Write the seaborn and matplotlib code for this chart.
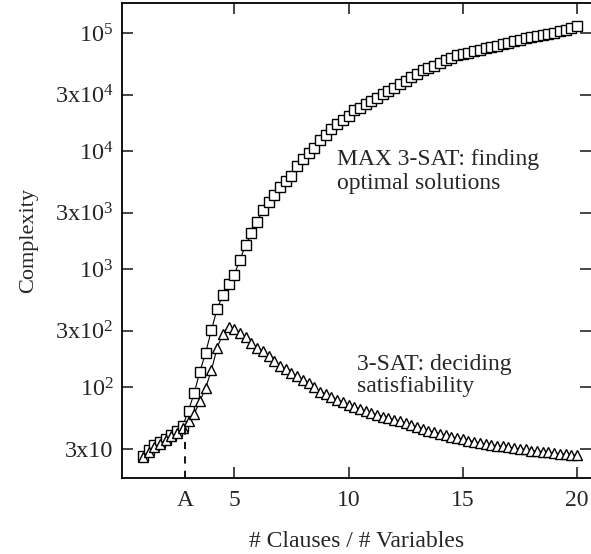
import numpy as np
import matplotlib
matplotlib.use("Agg")
import matplotlib.pyplot as plt
import seaborn as sns
from matplotlib.ticker import FixedLocator, NullLocator

# ---------------- data ----------------
ratio = [1.0, 1.25, 1.5, 1.75, 2.0, 2.25, 2.5, 2.75, 3.0, 3.25, 3.5, 3.75,
         4.0, 4.25, 4.5, 4.75, 5.0, 5.25, 5.5, 5.75, 6.0, 6.25, 6.5, 6.75,
         7.0, 7.25, 7.5, 7.75, 8.0, 8.25, 8.5, 8.75, 9.0, 9.25, 9.5, 9.75,
         10.0, 10.25, 10.5, 10.75, 11.0, 11.25, 11.5, 11.75, 12.0, 12.25,
         12.5, 12.75, 13.0, 13.25, 13.5, 13.75, 14.0, 14.25, 14.5, 14.75,
         15.0, 15.25, 15.5, 15.75, 16.0, 16.25, 16.5, 16.75, 17.0, 17.25,
         17.5, 17.75, 18.0, 18.25, 18.5, 18.75, 19.0, 19.25, 19.5, 19.75, 20.0]

max3sat = [26, 29, 32, 34, 36, 39, 42, 47, 63, 89, 135, 195,
           302, 457, 603, 741, 891, 1200, 1590, 2000, 2510, 3160, 3670, 4270,
           4950, 5560, 6170, 7410, 8510, 9550, 10700, 12300, 13800, 15300, 16800, 18200,
           20000, 22100, 23400, 25100, 26600, 28200, 30200, 32400, 34300, 36700,
           39400, 42200, 45200, 48400, 50700, 53100, 55700, 58900, 61700, 64600,
           66100, 67600, 70000, 72400, 74100, 75900, 77600, 80400, 83200, 85100,
           87100, 90200, 92300, 94400, 96600, 98900, 101000, 103500, 107000, 111000, 115000]

sat3 = [25.7, 28.2, 30.9, 33.1, 35.5, 38.0, 40.7, 44.7, 51, 59, 76, 98,
        138, 214, 282, 324, 309, 288, 263, 234, 214, 200, 182, 166,
        151, 141, 132, 123, 115, 107, 99, 91, 87, 82, 78, 74,
        70, 68, 65, 62, 60, 58, 56, 54, 52.5, 51,
        49, 47.3, 45.7, 44.2, 42.7, 41.2, 39.8, 38.9, 37.6, 36.7,
        35.9, 35.1, 34.3, 33.5, 32.7, 32.4, 31.6, 31.3, 30.9, 30.2,
        29.9, 29.5, 28.8, 28.5, 28.2, 27.9, 27.5, 27.2, 26.9, 26.6, 26.3]

x_ticks = [5, 10, 15, 20]
x_tick_labels = ["5", "10", "15", "20"]
a_position = 2.85
a_label = "A"

y_ticks = [30, 100, 300, 1000, 3000, 10000, 30000, 100000]
y_tick_labels = [r"3x10", r"10$^{2}$", r"3x10$^{2}$", r"10$^{3}$",
                 r"3x10$^{3}$", r"10$^{4}$", r"3x10$^{4}$", r"10$^{5}$"]

label_max = "MAX 3-SAT: finding\noptimal solutions"
label_sat = "3-SAT: deciding\nsatisfiability"

# ---------------- style ----------------
sns.set_style("ticks")
plt.rcParams["font.family"] = ["Liberation Serif", "DejaVu Serif"]
plt.rcParams["mathtext.fontset"] = "custom"
plt.rcParams["mathtext.rm"] = "Liberation Serif"
plt.rcParams["mathtext.it"] = "Liberation Serif:italic"
plt.rcParams["mathtext.bf"] = "Liberation Serif:bold"

fig = plt.figure(figsize=(5.91, 5.54), dpi=100)
ax = fig.add_axes([122 / 591, 76 / 554, 1 - 122 / 591, (551 - 76) / 554])

sns.lineplot(x=ratio, y=max3sat, ax=ax, estimator=None, sort=False,
             color="black", linewidth=0.8, marker="s", markersize=6.5,
             markerfacecolor="white", markeredgecolor="black",
             markeredgewidth=1.0)
sns.lineplot(x=ratio, y=sat3, ax=ax, estimator=None, sort=False,
             color="black", linewidth=0.8, marker="^", markersize=7,
             markerfacecolor="white", markeredgecolor="black",
             markeredgewidth=1.0)

ax.set_yscale("log")
ax.set_xlim(0.09, 20.61)
ax.set_ylim(16.9, 1.8e5)

# dashed marker line at A
y_low = ax.get_ylim()[0]
a_top = float(np.interp(a_position, ratio, sat3))
ax.plot([a_position, a_position], [y_low, a_top], color="black",
        linestyle=(0, (4, 4)), linewidth=1.3)

ax.xaxis.set_major_locator(FixedLocator(x_ticks))
ax.set_xticklabels(x_tick_labels)
ax.set_xticks([a_position], minor=True)
ax.set_xticklabels([a_label], minor=True)
ax.yaxis.set_major_locator(FixedLocator(y_ticks))
ax.yaxis.set_minor_locator(NullLocator())
ax.set_yticklabels(y_tick_labels)

ax.tick_params(axis="both", which="major", direction="in", length=8,
               width=1.2, labelsize=17, top=True, right=True)
ax.tick_params(axis="x", which="major", pad=9)
ax.tick_params(axis="y", which="major", pad=6, labelsize=17.5)
ax.tick_params(axis="x", which="minor", length=0, labelsize=17, pad=9,
               top=False)

for side in ["left", "bottom", "top"]:
    ax.spines[side].set_linewidth(1.3)
    ax.spines[side].set_color("black")
ax.spines["right"].set_visible(False)

ax.set_xlabel("# Clauses / # Variables", fontsize=17, labelpad=14)
ax.set_ylabel("Complexity", fontsize=16, labelpad=12)

ax.text(9.5, 10500, label_max, fontsize=17, ha="left", va="top",
        linespacing=1.2)
ax.text(10.37, 190, label_sat, fontsize=17, ha="left", va="top",
        linespacing=1.05)

fig.savefig("out.png", dpi=100, facecolor="white")
